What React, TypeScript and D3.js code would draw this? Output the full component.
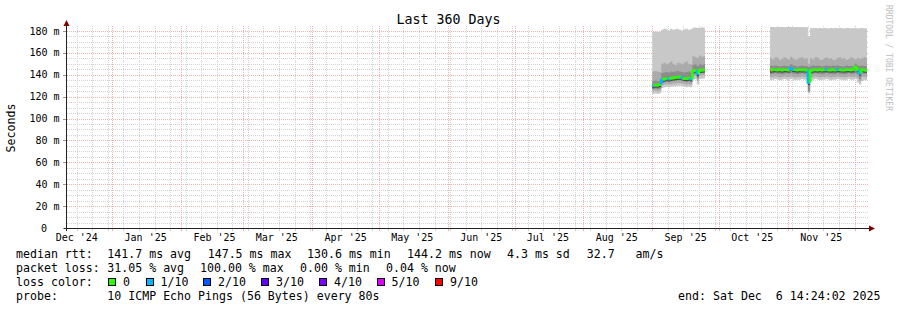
import React from "react";
import * as d3 from "d3";

const FONT = "'DejaVu Sans Mono', monospace";
const parseT = d3.timeParse("%Y-%m-%d %H:%M");

// ---------- data ----------
const titleText = "Last 360 Days";
const yAxisTitle = "Seconds";
const startTime = new Date(2024, 11, 11, 14, 24, 2);
const endTime = new Date(2025, 11, 6, 14, 24, 2);
const yDomainMax = 182.7;

const yTickValues = [0, 20, 40, 60, 80, 100, 120, 140, 160, 180];
const yTickLabels = ["0", "20 m", "40 m", "60 m", "80 m", "100 m", "120 m", "140 m", "160 m", "180 m"];

const lossColors = ["#26ff00", "#00b8ff", "#0059ff", "#5e00ff", "#7e00ff", "#dd00ff", "#ff0000"];
const lossLabels = ["0", "1/10", "2/10", "3/10", "4/10", "5/10", "9/10"];

// segment 1 (Sep 2025)
const seg1Times = [
  "2025-09-01 00:00", "2025-09-02 00:00", "2025-09-03 00:00", "2025-09-04 00:00", "2025-09-05 00:00",
  "2025-09-06 00:00", "2025-09-07 00:00", "2025-09-08 00:00", "2025-09-09 00:00", "2025-09-10 00:00",
  "2025-09-11 00:00", "2025-09-12 00:00", "2025-09-13 00:00", "2025-09-14 00:00", "2025-09-15 00:00",
  "2025-09-16 00:00", "2025-09-17 00:00", "2025-09-18 00:00", "2025-09-19 00:00", "2025-09-20 00:00",
  "2025-09-21 00:00", "2025-09-22 00:00", "2025-09-23 00:00", "2025-09-24 00:00",
];
const seg1End = "2025-09-24 16:00";
const seg1Median = [130.0, 130.6, 130.5, 131.0, 135.2, 136.0, 136.4, 136.2, 136.8, 137.0, 137.4, 137.6, 137.8, 137.2, 136.6, 136.4, 136.8, 136.2, 143.4, 143.8, 141.0, 144.0, 144.2, 144.4];
const seg1Loss = [1, 0, 0, 0, 1, 0, 0, 1, 0, 0, 0, 0, 0, 1, 0, 0, 0, 1, 0, 0, 1, 0, 0, 0];
const seg1Max = [179, 179.5, 179, 179.5, 181, 182, 181.5, 180.5, 182, 181, 181.5, 182, 181, 180.5, 181.5, 182, 181, 181.5, 183, 183.2, 182.8, 183, 183.4, 183];
const seg1Hi2 = [143, 143.5, 143, 142.5, 150, 151, 149.5, 150.5, 152, 150, 149, 151, 150.5, 149.5, 151, 152, 150, 149.5, 157, 156, 155.5, 157.5, 156.5, 157];
const seg1Hi3 = [134, 134.5, 134, 134.5, 141.5, 142, 142.5, 142, 143, 142.5, 143, 143.5, 143, 142.5, 142, 142.5, 143, 142, 149, 149.5, 148, 149.5, 149, 149.5];
const seg1Lo3 = [127, 127.5, 127, 127.5, 132.5, 133.5, 134, 133.5, 134, 134.5, 134.5, 135, 135, 134.5, 134, 133.5, 134, 133.5, 141, 141.5, 137, 141.5, 141.5, 142];
const seg1Lo2 = [125, 125.5, 125, 125.5, 130.5, 131, 131.5, 131, 131.5, 132, 132, 132.5, 132.5, 132, 131.5, 131, 131.5, 131, 138.5, 139, 134.5, 139, 139.5, 139.5];
const seg1Min = [122.5, 123, 122.5, 123, 128, 128.5, 129, 128.5, 129, 129.5, 129.5, 130, 130, 129.5, 129, 128.5, 129, 128.5, 135.5, 136, 131, 136, 136.5, 136.5];

// segment 2 (late Oct - Dec 2025)
const seg2Times = [
  "2025-10-24 00:00", "2025-10-24 12:00", "2025-10-25 00:00", "2025-10-26 00:00", "2025-10-27 00:00",
  "2025-10-28 00:00", "2025-10-29 00:00", "2025-10-30 00:00", "2025-10-31 00:00", "2025-11-01 00:00",
  "2025-11-02 00:00", "2025-11-03 00:00", "2025-11-04 00:00", "2025-11-05 00:00", "2025-11-06 00:00",
  "2025-11-07 00:00", "2025-11-08 00:00", "2025-11-09 00:00", "2025-11-10 00:00", "2025-11-11 00:00",
  "2025-11-12 00:00", "2025-11-13 00:00", "2025-11-14 00:00", "2025-11-15 00:00", "2025-11-16 00:00",
  "2025-11-17 00:00", "2025-11-18 00:00", "2025-11-19 00:00", "2025-11-20 00:00", "2025-11-21 00:00",
  "2025-11-22 00:00", "2025-11-23 00:00", "2025-11-24 00:00", "2025-11-25 00:00", "2025-11-26 00:00",
  "2025-11-27 00:00", "2025-11-28 00:00", "2025-11-29 00:00", "2025-11-30 00:00", "2025-12-01 00:00",
  "2025-12-02 00:00", "2025-12-03 00:00", "2025-12-04 00:00", "2025-12-05 00:00", "2025-12-06 00:00",
];
const seg2Median = [144.0, 144.2, 144.5, 144.6, 144.4, 144.5, 144.3, 144.6, 144.5, 144.4, 146.0, 144.8, 144.5, 144.3, 144.6, 144.4, 144.5, 144.2, 133.0, 143.8, 144.4, 144.5, 144.3, 144.6, 144.4, 144.5, 144.6, 144.4, 144.3, 144.5, 144.4, 144.6, 144.5, 144.4, 144.3, 144.5, 144.6, 144.4, 144.5, 147.0, 144.6, 141.5, 144.6, 144.3, 144.2];
const seg2Loss = [6, 0, 0, 0, 0, 0, 0, 0, 0, 0, 1, 1, 0, 0, 0, 0, 0, 0, 1, 0, 0, 0, 0, 0, 0, 0, 1, 0, 0, 0, 0, 1, 0, 0, 0, 0, 0, 0, 0, 0, 0, 1, 0, 0, 0];
const seg2Max = [183.5, 183.5, 183.6, 183.4, 183.5, 183.6, 183.5, 183.4, 183.5, 183.6, 183.5, 183.4, 183.5, 183.6, 183.5, 183.5, 183.4, 183.5, 175.5, 182.6, 182.4, 182.7, 182.5, 182.6, 182.4, 182.7, 182.5, 182.3, 182.6, 182.5, 182.7, 182.4, 182.6, 182.5, 182.3, 182.6, 182.7, 182.5, 182.4, 182.6, 182.2, 182.5, 182.6, 182.4, 182.5];
const seg2Hi2 = [155.5, 155, 154, 156, 155.5, 153.5, 154.5, 156, 155, 154, 156.5, 155, 153.5, 154.5, 155.5, 156, 154.5, 155, 150, 155, 154, 156, 155.5, 154, 153.5, 155, 156, 154.5, 155, 153.5, 154, 155.5, 156, 154.5, 155, 153.5, 154.5, 156, 155, 154, 155.5, 154.5, 155, 156, 155];
const seg2Hi3 = [148, 148.5, 148, 148.5, 148, 147.5, 148, 148.5, 148, 148, 149.5, 148.5, 148, 147.5, 148, 148.5, 148, 148, 147, 148, 148.5, 148, 148.5, 148, 147.5, 148, 148.5, 148, 148, 148.5, 148, 148.5, 148, 147.5, 148, 148.5, 148, 148, 148, 150, 148.5, 148, 148.5, 148, 148];
const seg2Lo3 = [140.5, 141, 141, 141.5, 141, 141, 140.5, 141, 141.5, 141, 141.5, 141, 141, 140.5, 141, 141.5, 141, 141, 125, 140, 141, 141.5, 141, 141, 140.5, 141, 141.5, 141, 141, 140.5, 141, 141.5, 141, 141, 140.5, 141, 141.5, 141, 141, 141.5, 140.5, 136, 141, 141, 140.5];
const seg2Lo2 = [137.5, 138, 138, 138.5, 138, 137.5, 138, 138.5, 138, 138, 138.5, 138, 137.5, 138, 138, 138.5, 138, 138, 124, 137, 138, 138.5, 138, 137.5, 138, 138, 138.5, 138, 137.5, 138, 138, 138.5, 138, 138, 137.5, 138, 138.5, 138, 138, 138.5, 137, 134, 138, 138, 137.5];
const seg2Min = [135, 135.5, 135.5, 136, 135.5, 135, 135.5, 136, 135.5, 135.5, 136, 135.5, 135, 135.5, 135.5, 136, 135.5, 135.5, 123, 134.5, 135.5, 136, 135.5, 135, 135.5, 135.5, 136, 135.5, 135, 135.5, 135.5, 136, 135.5, 135.5, 135, 135.5, 136, 135.5, 135.5, 136, 133, 131, 134, 135, 135];

const legendRtt = ["median rtt:", "141.7 ms avg", "147.5 ms max", "130.6 ms min", "144.2 ms now", "4.3 ms sd", "32.7   am/s"];
const legendLoss = ["packet loss:", "31.05 % avg", "100.00 % max", "0.00 % min", "0.04 % now"];
const legendColorTitle = "loss color:";
const probeLabel = "probe:";
const probeText = "10 ICMP Echo Pings (56 Bytes) every 80s";
const endText = "end: Sat Dec  6 14:24:02 2025";
const watermark = "RRDTOOL / TOBI OETIKER";

// ---------- layout ----------
const W = 897, H = 310;
const X0 = 67, X1 = 867, Y0 = 28, Y1 = 228;
const rttX = [16, 107.3, 207.7, 307, 407, 507, 586.7];
const lossX = [16, 107.3, 200, 300, 386];
const boxX = [108.5, 146, 203.5, 261.5, 319.5, 377, 435.5];
const rowY = [258.3, 272.3, 286.3, 300.2];

const GRID = "#d2d2d2";
const MGRID = "#f2b0b0";
const SMOKE = ["#c8c8c8", "#ababab", "#8c8c8c"];

type Seg = {
  times: Date[];
  median: number[];
  loss: number[];
  bands: [number[], number[]][];
};

function makeSeg(times: string[], end: Date, median: number[], loss: number[], bands: [number[], number[]][]): Seg {
  const t = times.map((s) => parseT(s) as Date);
  t.push(end);
  return { times: t, median, loss, bands };
}

const segments: Seg[] = [
  makeSeg(seg1Times, parseT(seg1End) as Date, seg1Median, seg1Loss, [
    [seg1Min, seg1Max],
    [seg1Lo2, seg1Hi2],
    [seg1Lo3, seg1Hi3],
  ]),
  makeSeg(seg2Times, endTime, seg2Median, seg2Loss, [
    [seg2Min, seg2Max],
    [seg2Lo2, seg2Hi2],
    [seg2Lo3, seg2Hi3],
  ]),
];

export default function App() {
  const x = d3.scaleTime().domain([startTime, endTime]).range([X0, X1]);
  const y = d3.scaleLinear().domain([0, yDomainMax]).range([Y1, Y0]);

  const monthTicks = d3.timeMonth.range(d3.timeMonth.ceil(startTime), endTime);
  const weekTicks = d3.timeMonday.range(d3.timeMonday.ceil(startTime), endTime);
  const labelMonths = d3.timeMonth
    .range(d3.timeMonth.floor(startTime), endTime)
    .map((m) => ({ m, c: d3.timeDay.offset(m, 15) }))
    .filter((o) => o.c >= startTime && o.c <= endTime);
  const fmtMonth = d3.timeFormat("%b '%y");

  const minorY = d3.range(5, yDomainMax, 5).filter((v) => v % 20 !== 0);

  const bandPath = (seg: Seg, lo: number[], hi: number[]) => {
    const n = lo.length;
    const idx = d3.range(n + 1);
    const area = d3
      .area<number>()
      .x((i) => x(seg.times[i]))
      .y0((i) => y(lo[Math.min(i, n - 1)]))
      .y1((i) => y(hi[Math.min(i, n - 1)]))
      .curve(d3.curveStepAfter);
    return area(idx) || "";
  };

  return (
    <svg width={W} height={H} viewBox={`0 0 ${W} ${H}`} style={{ display: "block", position: "absolute", left: 0, top: 0, background: "#fff" }}>
      <rect x={0} y={0} width={W} height={H} fill="#fff" />
      {/* title */}
      <text x={448.5} y={24} textAnchor="middle" fontFamily={FONT} fontSize={13.3} fill="#000">
        {titleText}
      </text>
      {/* minor grid */}
      <g shapeRendering="crispEdges" stroke={GRID} strokeWidth={1} strokeDasharray="1 1">
        {minorY.map((v) => (
          <line key={"my" + v} x1={X0} x2={X1 + 2} y1={Math.round(y(v)) + 0.5} y2={Math.round(y(v)) + 0.5} />
        ))}
        {weekTicks.map((d) => (
          <line key={"wx" + +d} x1={Math.round(x(d)) + 0.5} x2={Math.round(x(d)) + 0.5} y1={Y0 - 2} y2={Y1} />
        ))}
      </g>
      {/* major grid */}
      <g shapeRendering="crispEdges" stroke={MGRID} strokeWidth={1} strokeDasharray="1 1">
        {yTickValues.filter((v) => v > 0).map((v) => (
          <line key={"My" + v} x1={X0} x2={X1 + 2} y1={Math.round(y(v)) + 0.5} y2={Math.round(y(v)) + 0.5} />
        ))}
        {monthTicks.map((d) => (
          <line key={"Mx" + +d} x1={Math.round(x(d)) + 0.5} x2={Math.round(x(d)) + 0.5} y1={Y0 - 2} y2={Y1} />
        ))}
      </g>
      {/* tick stubs */}
      <g shapeRendering="crispEdges" strokeWidth={1}>
        {weekTicks.map((d) => (
          <line key={"wt" + +d} stroke={GRID} x1={Math.round(x(d)) + 0.5} x2={Math.round(x(d)) + 0.5} y1={Y1} y2={Y1 + 3} />
        ))}
        {monthTicks.map((d) => (
          <line key={"mt" + +d} stroke={MGRID} x1={Math.round(x(d)) + 0.5} x2={Math.round(x(d)) + 0.5} y1={Y1} y2={Y1 + 3} />
        ))}
        {yTickValues.map((v) => (
          <line key={"yt" + v} stroke="#999" x1={X0 - 4} x2={X0} y1={Math.round(y(v)) + 0.5} y2={Math.round(y(v)) + 0.5} />
        ))}
      </g>
      {/* smoke */}
      {segments.map((seg, si) => (
        <g key={"seg" + si}>
          {seg.bands.map(([lo, hi], bi) => (
            <path key={bi} d={bandPath(seg, lo, hi)} fill={SMOKE[bi]} stroke="none" />
          ))}
          {seg.median.map((m, i) => {
            const xa = x(seg.times[i]);
            const xb = x(seg.times[i + 1]);
            return <line key={"sh" + i} x1={xa} x2={xb} y1={y(m) + 2} y2={y(m) + 2} stroke="#3a3a3a" strokeWidth={1} />;
          })}
          {seg.median.map((m, i) => {
            const xa = x(seg.times[i]);
            const xb = x(seg.times[i + 1]);
            const prev = i > 0 ? seg.median[i - 1] : m;
            const d = `M${xa},${y(prev)}V${y(m)}H${xb}`;
            return <path key={"md" + i} d={d} fill="none" stroke={lossColors[seg.loss[i]]} strokeWidth={2.6} />;
          })}
        </g>
      ))}
      {/* axes */}
      <g shapeRendering="crispEdges">
        <line x1={X0 - 0.5} x2={X0 - 0.5} y1={Y1 + 3} y2={Y0 - 4} stroke="#222" />
        <line x1={X0 - 3} x2={X1 + 3} y1={Y1 + 0.5} y2={Y1 + 0.5} stroke="#222" />
      </g>
      <path d={`M${X0 - 3.5},${Y0 - 2} L${X0 + 2.5},${Y0 - 2} L${X0 - 0.5},${Y0 - 8} Z`} fill="#7f0000" />
      <path d={`M${X1 + 2},${Y1 - 2.5} L${X1 + 2},${Y1 + 3.5} L${X1 + 8},${Y1 + 0.5} Z`} fill="#7f0000" />
      {/* y labels */}
      {yTickValues.map((v, i) => (
        <text key={"yl" + v} x={v === 0 ? 47 : 59.5} y={y(v) + 3.6} textAnchor="end" fontFamily={FONT} fontSize={10} fill="#000">
          {yTickLabels[i]}
        </text>
      ))}
      {/* x labels */}
      {labelMonths.map((o) => (
        <text key={"xl" + +o.m} x={x(o.c)} y={241.3} textAnchor="middle" fontFamily={FONT} fontSize={10} fill="#000">
          {fmtMonth(o.m)}
        </text>
      ))}
      {/* y title */}
      <text transform={`translate(15,128) rotate(-90)`} textAnchor="middle" fontFamily={FONT} fontSize={11.6} fill="#000">
        {yAxisTitle}
      </text>
      {/* watermark */}
      <text transform={`translate(885.5,5) rotate(90)`} textAnchor="start" fontFamily={FONT} fontSize={8} fill="#bdbdbd">
        {watermark}
      </text>
      {/* legend */}
      <g fontFamily={FONT} fontSize={11.6} fill="#000" style={{ whiteSpace: "pre" }}>
        {legendRtt.map((s, i) => (
          <text key={"r" + i} x={rttX[i]} y={rowY[0]} xmlSpace="preserve">{s}</text>
        ))}
        {legendLoss.map((s, i) => (
          <text key={"l" + i} x={lossX[i]} y={rowY[1]} xmlSpace="preserve">{s}</text>
        ))}
        <text x={16} y={rowY[2]}>{legendColorTitle}</text>
        {lossLabels.map((s, i) => (
          <g key={"c" + i}>
            <rect x={boxX[i]} y={278.5} width={7} height={7} fill={lossColors[i]} stroke="#000" strokeWidth={1} shapeRendering="crispEdges" />
            <text x={boxX[i] + 14.5} y={rowY[2]}>{s}</text>
          </g>
        ))}
        <text x={16} y={rowY[3]}>{probeLabel}</text>
        <text x={107.3} y={rowY[3]}>{probeText}</text>
        <text x={880.5} y={rowY[3]} textAnchor="end" xmlSpace="preserve">{endText}</text>
      </g>
    </svg>
  );
}
